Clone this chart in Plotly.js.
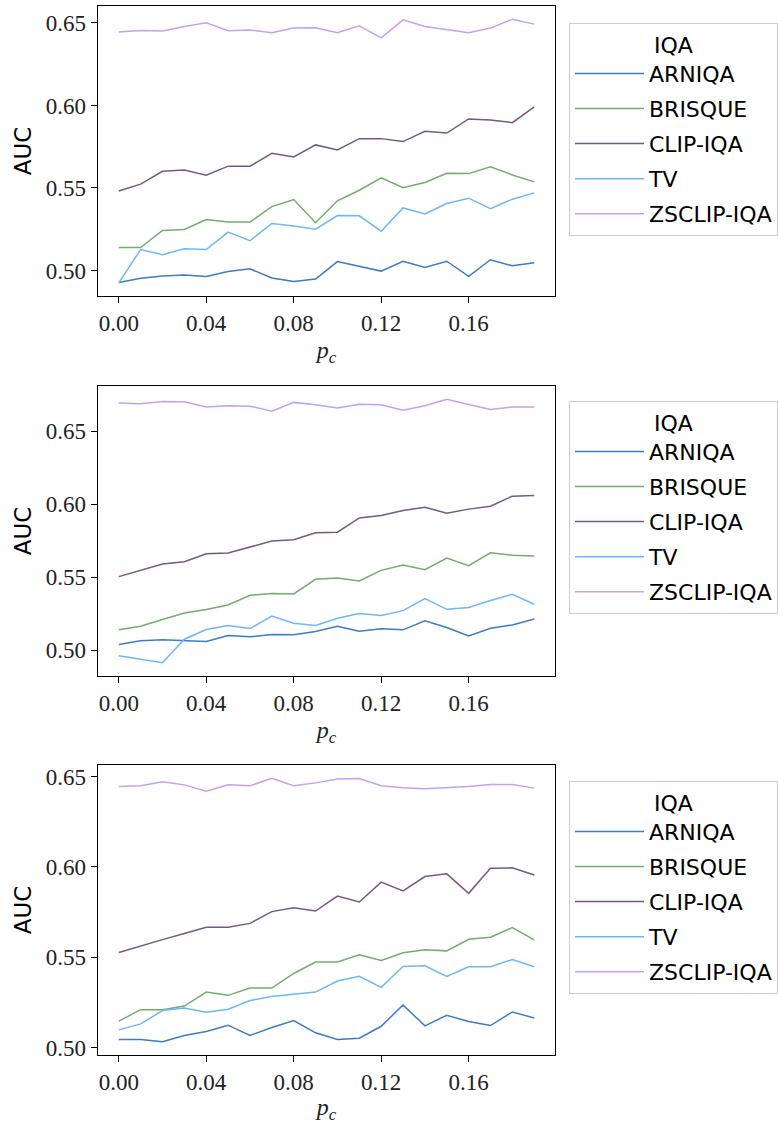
<!DOCTYPE html>
<html>
<head>
<meta charset="utf-8">
<script src="https://cdn.plot.ly/plotly-3.0.1.min.js"></script>
<style>
  html, body { margin: 0; padding: 0; background: #ffffff; }
  #chart { width: 778px; height: 1124px; }
</style>
</head>
<body>
<div id="chart"></div>
<script>
// Corruption probability p_c on the x axis
const pc = [0.00, 0.01, 0.02, 0.03, 0.04, 0.05, 0.06, 0.07, 0.08, 0.09,
            0.10, 0.11, 0.12, 0.13, 0.14, 0.15, 0.16, 0.17, 0.18, 0.19];

const methods = ['ARNIQA', 'BRISQUE', 'CLIP-IQA', 'TV', 'ZSCLIP-IQA'];

// Panel 1
const p1_arniqa  = [0.4927, 0.4952, 0.4966, 0.4972, 0.4964, 0.4994, 0.5010, 0.4954, 0.4933, 0.4948,
                    0.5054, 0.5026, 0.4996, 0.5056, 0.5018, 0.5056, 0.4964, 0.5065, 0.5028, 0.5046];
const p1_brisque = [0.5139, 0.5139, 0.5242, 0.5248, 0.5309, 0.5293, 0.5293, 0.5387, 0.5430, 0.5289,
                    0.5422, 0.5486, 0.5561, 0.5502, 0.5533, 0.5589, 0.5587, 0.5628, 0.5579, 0.5537];
const p1_clipiqa = [0.5482, 0.5523, 0.5601, 0.5609, 0.5577, 0.5632, 0.5632, 0.5710, 0.5688, 0.5761,
                    0.5730, 0.5799, 0.5799, 0.5781, 0.5843, 0.5833, 0.5918, 0.5912, 0.5896, 0.5991];
const p1_tv      = [0.4925, 0.5127, 0.5095, 0.5131, 0.5127, 0.5232, 0.5180, 0.5285, 0.5270, 0.5250,
                    0.5333, 0.5331, 0.5238, 0.5379, 0.5343, 0.5406, 0.5438, 0.5375, 0.5432, 0.5470];
const p1_zsclip  = [0.6445, 0.6454, 0.6451, 0.6479, 0.6501, 0.6453, 0.6457, 0.6441, 0.6469, 0.6471,
                    0.6441, 0.6483, 0.6410, 0.6519, 0.6479, 0.6459, 0.6441, 0.6469, 0.6523, 0.6493];

// Panel 2
const p2_arniqa  = [0.5039, 0.5064, 0.5071, 0.5064, 0.5059, 0.5100, 0.5091, 0.5107, 0.5105, 0.5128,
                    0.5164, 0.5130, 0.5146, 0.5139, 0.5201, 0.5155, 0.5098, 0.5150, 0.5173, 0.5214];
const p2_brisque = [0.5139, 0.5164, 0.5210, 0.5255, 0.5278, 0.5310, 0.5376, 0.5388, 0.5385, 0.5486,
                    0.5495, 0.5474, 0.5547, 0.5584, 0.5552, 0.5632, 0.5579, 0.5668, 0.5650, 0.5645];
const p2_clipiqa = [0.5504, 0.5545, 0.5591, 0.5606, 0.5661, 0.5666, 0.5709, 0.5748, 0.5757, 0.5805,
                    0.5809, 0.5907, 0.5923, 0.5957, 0.5980, 0.5939, 0.5967, 0.5987, 0.6056, 0.6060];
const p2_tv      = [0.4961, 0.4936, 0.4913, 0.5075, 0.5141, 0.5169, 0.5148, 0.5233, 0.5185, 0.5169,
                    0.5219, 0.5251, 0.5237, 0.5271, 0.5353, 0.5280, 0.5292, 0.5340, 0.5383, 0.5315];
const p2_zsclip  = [0.6694, 0.6689, 0.6705, 0.6703, 0.6667, 0.6676, 0.6673, 0.6639, 0.6699, 0.6683,
                    0.6660, 0.6687, 0.6683, 0.6646, 0.6676, 0.6721, 0.6685, 0.6651, 0.6667, 0.6667];

// Panel 3
const p3_arniqa  = [0.5046, 0.5046, 0.5033, 0.5068, 0.5090, 0.5125, 0.5068, 0.5112, 0.5151, 0.5083,
                    0.5046, 0.5053, 0.5119, 0.5237, 0.5121, 0.5180, 0.5145, 0.5123, 0.5198, 0.5165];
const p3_brisque = [0.5147, 0.5211, 0.5211, 0.5231, 0.5308, 0.5290, 0.5330, 0.5330, 0.5411, 0.5474,
                    0.5475, 0.5514, 0.5483, 0.5525, 0.5542, 0.5536, 0.5600, 0.5611, 0.5665, 0.5597];
const p3_clipiqa = [0.5527, 0.5564, 0.5598, 0.5632, 0.5666, 0.5666, 0.5688, 0.5753, 0.5775, 0.5756,
                    0.5839, 0.5806, 0.5916, 0.5868, 0.5947, 0.5962, 0.5854, 0.5993, 0.5995, 0.5956];
const p3_tv      = [0.5099, 0.5132, 0.5206, 0.5220, 0.5196, 0.5213, 0.5261, 0.5283, 0.5296, 0.5308,
                    0.5369, 0.5395, 0.5334, 0.5450, 0.5453, 0.5395, 0.5448, 0.5448, 0.5488, 0.5448];
const p3_zsclip  = [0.6445, 0.6449, 0.6471, 0.6454, 0.6419, 0.6454, 0.6449, 0.6491, 0.6449, 0.6465,
                    0.6487, 0.6489, 0.6449, 0.6438, 0.6432, 0.6438, 0.6445, 0.6456, 0.6456, 0.6436];

const panels = [
  [p1_arniqa, p1_brisque, p1_clipiqa, p1_tv, p1_zsclip],
  [p2_arniqa, p2_brisque, p2_clipiqa, p2_tv, p2_zsclip],
  [p3_arniqa, p3_brisque, p3_clipiqa, p3_tv, p3_zsclip]
];

const colors = ['#3a7cc8', '#72ad6c', '#7a5686', '#6db7f6', '#c79ff0'];

// figure geometry (pixels)
const W = 778, H = 1124;
const plotLeft = 98, plotRight = 555;
const panelTops = [6, 386, 765];
const panelHeight = 290;
const legendLeft = 569;
const legendTops = [23, 401, 781];

const serif = '"Liberation Serif", "DejaVu Serif", serif';
const sans = '"DejaVu Sans", sans-serif';

const traces = [];
const layout = {
  width: W, height: H,
  margin: {l: 0, r: 0, t: 0, b: 0},
  paper_bgcolor: '#ffffff',
  plot_bgcolor: '#ffffff',
  showlegend: true
};

panels.forEach((series, p) => {
  const n = p + 1;
  const xa = n === 1 ? 'x' : 'x' + n;
  const ya = n === 1 ? 'y' : 'y' + n;
  const lg = n === 1 ? 'legend' : 'legend' + n;

  series.forEach((vals, k) => {
    traces.push({
      x: pc, y: vals,
      type: 'scatter', mode: 'lines',
      name: methods[k],
      legend: lg,
      legendgroup: 'p' + n + '_' + k,
      line: {color: colors[k], width: 1.5},
      xaxis: xa, yaxis: ya,
      hoverinfo: 'skip'
    });
  });

  // 5% padding around the data, as in a default matplotlib axes
  const all = [].concat(...series);
  const lo = Math.min(...all), hi = Math.max(...all);
  const pad = (hi - lo) * 0.05;
  const xpad = (pc[pc.length - 1] - pc[0]) * 0.05;

  const top = panelTops[p], bottom = top + panelHeight;

  layout[n === 1 ? 'xaxis' : 'xaxis' + n] = {
    domain: [plotLeft / W, plotRight / W],
    anchor: ya,
    range: [pc[0] - xpad, pc[pc.length - 1] + xpad],
    tick0: 0, dtick: 0.04, tickformat: '.2f',
    ticks: 'outside', ticklen: 6, tickwidth: 1, tickcolor: '#000',
    showgrid: false, zeroline: false,
    showline: true, mirror: true, linecolor: '#000', linewidth: 1.3,
    tickfont: {family: serif, size: 23, color: '#222'},
    title: {text: '<i>p</i><sub><i>c</i></sub>', font: {family: serif, size: 24, color: '#222'}, standoff: 6}
  };
  layout[n === 1 ? 'yaxis' : 'yaxis' + n] = {
    domain: [1 - bottom / H, 1 - top / H],
    anchor: xa,
    range: [lo - pad, hi + pad],
    dtick: 0.05, tickformat: '.2f',
    ticks: 'outside', ticklen: 6, tickwidth: 1, tickcolor: '#000',
    showgrid: false, zeroline: false,
    showline: true, mirror: true, linecolor: '#000', linewidth: 1.3,
    tickfont: {family: serif, size: 23, color: '#222'},
    title: {text: 'AUC', font: {family: sans, size: 23, color: '#000'}, standoff: 7}
  };
  layout[lg] = {
    x: legendLeft / W, xanchor: 'left',
    y: 1 - legendTops[p] / H, yanchor: 'top',
    bgcolor: '#ffffff',
    bordercolor: '#cccccc', borderwidth: 1,
    font: {family: sans, size: 22, color: '#000'},
    title: {text: 'IQA', side: 'top center', font: {family: sans, size: 22, color: '#000'}},
    itemwidth: 69,
    tracegroupgap: 3.5,
    traceorder: 'grouped'
  };
});

Plotly.newPlot('chart', traces, layout, {staticPlot: true});
</script>
</body>
</html>
